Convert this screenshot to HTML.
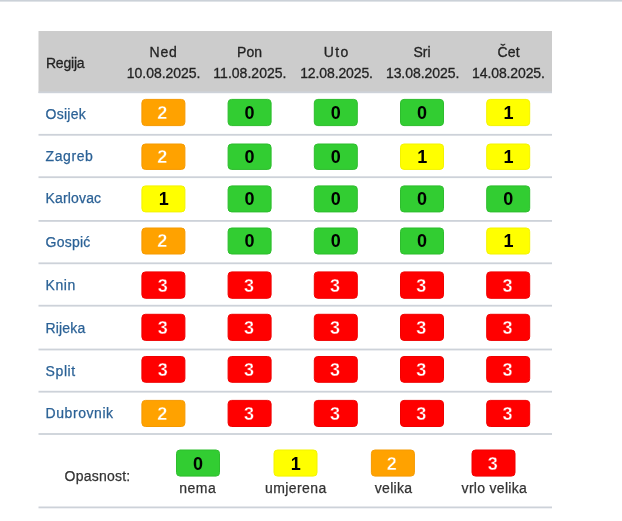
<!DOCTYPE html>
<html lang="hr">
<head>
<meta charset="utf-8">
<title>Opasnost od požara</title>
<style>
html,body{margin:0;padding:0;background:#fff;}
body{width:622px;height:521px;overflow:hidden;}
svg{display:block;font-family:"Liberation Sans",sans-serif;}
.ln{fill:#cdd2d9;}
.h{font-size:14px;fill:#242424;stroke:#242424;stroke-width:0.3px;}
.n{font-size:14px;fill:#2c6296;stroke:#2c6296;stroke-width:0.25px;}
.l{font-size:14px;fill:#333;stroke:#333;stroke-width:0.25px;}
.d{font-size:18px;font-weight:bold;text-anchor:middle;}
.g{fill:#32cd32;stroke:#2dbd2d;}
.y{fill:#ffff00;stroke:#f3f300;}
.o{fill:#ffa200;stroke:#f59a00;}
.r{fill:#ff0000;stroke:#f00000;}
.k{fill:#000;}
.w{fill:#fff;stroke-width:0.35px;}
.wo{stroke:#ffa200;}
.wr{stroke:#ff0000;}
</style>
</head>
<body>
<svg width="622" height="521" viewBox="0 0 622 521">
<defs><filter id="soft" x="-2%" y="-2%" width="104%" height="104%"><feGaussianBlur stdDeviation="0.4"/></filter></defs>
<g filter="url(#soft)">
<rect x="-6" y="-6" width="634" height="7.6" fill="#cbd1d8"/>

<rect x="38.5" y="31" width="513.5" height="62" fill="#cccccc"/>
<rect class="ln" x="38.5" y="91.4" width="513.5" height="1.8"/>
<text class="h" x="45.9" y="67.6" textLength="38.7" lengthAdjust="spacing">Regija</text>
<text class="h" x="149.6" y="56.7" textLength="27.2" lengthAdjust="spacing">Ned</text>
<text class="h" x="126.8" y="78.3" textLength="73.7" lengthAdjust="spacing">10.08.2025.</text>
<text class="h" x="237.1" y="56.7" textLength="24.9" lengthAdjust="spacing">Pon</text>
<text class="h" x="213.3" y="78.3" textLength="73.2" lengthAdjust="spacing">11.08.2025.</text>
<text class="h" x="323.8" y="56.7" textLength="24.4" lengthAdjust="spacing">Uto</text>
<text class="h" x="300.2" y="78.3" textLength="72.8" lengthAdjust="spacing">12.08.2025.</text>
<text class="h" x="413.4" y="56.7" textLength="17.2" lengthAdjust="spacing">Sri</text>
<text class="h" x="385.9" y="78.3" textLength="73.4" lengthAdjust="spacing">13.08.2025.</text>
<text class="h" x="497.4" y="56.7" textLength="22.3" lengthAdjust="spacing">Čet</text>
<text class="h" x="472.1" y="78.3" textLength="72.8" lengthAdjust="spacing">14.08.2025.</text>
<text class="n" x="45.6" y="119.3" textLength="40.2" lengthAdjust="spacing">Osijek</text>
<rect class="o" x="141.9" y="99.4" width="43" height="26.2" rx="3.5"/><text class="d w wo" x="162.3" y="118.95">2</text>
<rect class="g" x="228.1" y="99.4" width="43" height="26.2" rx="3.5"/><text class="d k" x="249.6" y="118.95">0</text>
<rect class="g" x="314.3" y="99.4" width="43" height="26.2" rx="3.5"/><text class="d k" x="335.8" y="118.95">0</text>
<rect class="g" x="400.5" y="99.4" width="43" height="26.2" rx="3.5"/><text class="d k" x="422.0" y="118.95">0</text>
<rect class="y" x="486.7" y="99.4" width="43" height="26.2" rx="3.5"/><text class="d k" x="508.5" y="118.95">1</text>
<rect class="ln" x="38.5" y="133.90" width="513.5" height="1.8"/>
<text class="n" x="45.6" y="161.0" textLength="47.2" lengthAdjust="spacing">Zagreb</text>
<rect class="o" x="141.9" y="144.0" width="43" height="25.4" rx="3.5"/><text class="d w wo" x="162.3" y="163.15">2</text>
<rect class="g" x="228.1" y="144.0" width="43" height="25.4" rx="3.5"/><text class="d k" x="249.6" y="163.15">0</text>
<rect class="g" x="314.3" y="144.0" width="43" height="25.4" rx="3.5"/><text class="d k" x="335.8" y="163.15">0</text>
<rect class="y" x="400.5" y="144.0" width="43" height="25.4" rx="3.5"/><text class="d k" x="422.3" y="163.15">1</text>
<rect class="y" x="486.7" y="144.0" width="43" height="25.4" rx="3.5"/><text class="d k" x="508.5" y="163.15">1</text>
<rect class="ln" x="38.5" y="176.30" width="513.5" height="1.8"/>
<text class="n" x="45.6" y="203.1" textLength="55.5" lengthAdjust="spacing">Karlovac</text>
<rect class="y" x="141.9" y="185.9" width="43" height="26.0" rx="3.5"/><text class="d k" x="163.7" y="205.35">1</text>
<rect class="g" x="228.1" y="185.9" width="43" height="26.0" rx="3.5"/><text class="d k" x="249.6" y="205.35">0</text>
<rect class="g" x="314.3" y="185.9" width="43" height="26.0" rx="3.5"/><text class="d k" x="335.8" y="205.35">0</text>
<rect class="g" x="400.5" y="185.9" width="43" height="26.0" rx="3.5"/><text class="d k" x="422.0" y="205.35">0</text>
<rect class="g" x="486.7" y="185.9" width="43" height="26.0" rx="3.5"/><text class="d k" x="508.2" y="205.35">0</text>
<rect class="ln" x="38.5" y="220.00" width="513.5" height="1.8"/>
<text class="n" x="45.6" y="247.2" textLength="44.6" lengthAdjust="spacing">Gospić</text>
<rect class="o" x="141.9" y="228.0" width="43" height="26.0" rx="3.5"/><text class="d w wo" x="162.3" y="247.45">2</text>
<rect class="g" x="228.1" y="228.0" width="43" height="26.0" rx="3.5"/><text class="d k" x="249.6" y="247.45">0</text>
<rect class="g" x="314.3" y="228.0" width="43" height="26.0" rx="3.5"/><text class="d k" x="335.8" y="247.45">0</text>
<rect class="g" x="400.5" y="228.0" width="43" height="26.0" rx="3.5"/><text class="d k" x="422.0" y="247.45">0</text>
<rect class="y" x="486.7" y="228.0" width="43" height="26.0" rx="3.5"/><text class="d k" x="508.5" y="247.45">1</text>
<rect class="ln" x="38.5" y="262.40" width="513.5" height="1.8"/>
<text class="n" x="45.6" y="289.7" textLength="29.6" lengthAdjust="spacing">Knin</text>
<rect class="r" x="141.9" y="271.9" width="43" height="26.4" rx="3.5"/><text class="d w wr" x="162.7" y="291.55">3</text>
<rect class="r" x="228.1" y="271.9" width="43" height="26.4" rx="3.5"/><text class="d w wr" x="248.9" y="291.55">3</text>
<rect class="r" x="314.3" y="271.9" width="43" height="26.4" rx="3.5"/><text class="d w wr" x="335.1" y="291.55">3</text>
<rect class="r" x="400.5" y="271.9" width="43" height="26.4" rx="3.5"/><text class="d w wr" x="421.3" y="291.55">3</text>
<rect class="r" x="486.7" y="271.9" width="43" height="26.4" rx="3.5"/><text class="d w wr" x="507.5" y="291.55">3</text>
<rect class="ln" x="38.5" y="304.80" width="513.5" height="1.8"/>
<text class="n" x="45.6" y="333.1" textLength="39.6" lengthAdjust="spacing">Rijeka</text>
<rect class="r" x="141.9" y="314.3" width="43" height="26.1" rx="3.5"/><text class="d w wr" x="162.7" y="333.80">3</text>
<rect class="r" x="228.1" y="314.3" width="43" height="26.1" rx="3.5"/><text class="d w wr" x="248.9" y="333.80">3</text>
<rect class="r" x="314.3" y="314.3" width="43" height="26.1" rx="3.5"/><text class="d w wr" x="335.1" y="333.80">3</text>
<rect class="r" x="400.5" y="314.3" width="43" height="26.1" rx="3.5"/><text class="d w wr" x="421.3" y="333.80">3</text>
<rect class="r" x="486.7" y="314.3" width="43" height="26.1" rx="3.5"/><text class="d w wr" x="507.5" y="333.80">3</text>
<rect class="ln" x="38.5" y="348.60" width="513.5" height="1.8"/>
<text class="n" x="45.6" y="376.1" textLength="29.6" lengthAdjust="spacing">Split</text>
<rect class="r" x="141.9" y="356.5" width="43" height="25.8" rx="3.5"/><text class="d w wr" x="162.7" y="375.85">3</text>
<rect class="r" x="228.1" y="356.5" width="43" height="25.8" rx="3.5"/><text class="d w wr" x="248.9" y="375.85">3</text>
<rect class="r" x="314.3" y="356.5" width="43" height="25.8" rx="3.5"/><text class="d w wr" x="335.1" y="375.85">3</text>
<rect class="r" x="400.5" y="356.5" width="43" height="25.8" rx="3.5"/><text class="d w wr" x="421.3" y="375.85">3</text>
<rect class="r" x="486.7" y="356.5" width="43" height="25.8" rx="3.5"/><text class="d w wr" x="507.5" y="375.85">3</text>
<rect class="ln" x="38.5" y="390.80" width="513.5" height="1.8"/>
<text class="n" x="45.6" y="418.1" textLength="67.5" lengthAdjust="spacing">Dubrovnik</text>
<rect class="o" x="141.9" y="400.4" width="43" height="26.1" rx="3.5"/><text class="d w wo" x="162.3" y="419.90">2</text>
<rect class="r" x="228.1" y="400.4" width="43" height="26.1" rx="3.5"/><text class="d w wr" x="248.9" y="419.90">3</text>
<rect class="r" x="314.3" y="400.4" width="43" height="26.1" rx="3.5"/><text class="d w wr" x="335.1" y="419.90">3</text>
<rect class="r" x="400.5" y="400.4" width="43" height="26.1" rx="3.5"/><text class="d w wr" x="421.3" y="419.90">3</text>
<rect class="r" x="486.7" y="400.4" width="43" height="26.1" rx="3.5"/><text class="d w wr" x="507.5" y="419.90">3</text>
<rect class="ln" x="38.5" y="433.10" width="513.5" height="1.8"/>
<text class="l" x="64.6" y="480.5" textLength="65.6" lengthAdjust="spacing">Opasnost:</text>
<rect class="g" x="176.5" y="450.0" width="43" height="26.1" rx="3.5"/><text class="d k" x="198.0" y="469.50">0</text>
<text class="l" x="179.2" y="493.3" textLength="36.5" lengthAdjust="spacing">nema</text>
<rect class="y" x="274.0" y="450.0" width="43" height="26.1" rx="3.5"/><text class="d k" x="295.8" y="469.50">1</text>
<text class="l" x="265.1" y="493.3" textLength="61.1" lengthAdjust="spacing">umjerena</text>
<rect class="o" x="371.4" y="450.0" width="43" height="26.1" rx="3.5"/><text class="d w wo" x="391.8" y="469.50">2</text>
<text class="l" x="374.8" y="493.3" textLength="37.2" lengthAdjust="spacing">velika</text>
<rect class="r" x="472.0" y="450.0" width="43" height="26.1" rx="3.5"/><text class="d w wr" x="492.8" y="469.50">3</text>
<text class="l" x="461.6" y="493.3" textLength="65.2" lengthAdjust="spacing">vrlo velika</text>
<rect class="ln" x="38.5" y="506.5" width="513.5" height="1.8"/>
</g>
</svg>
</body>
</html>
